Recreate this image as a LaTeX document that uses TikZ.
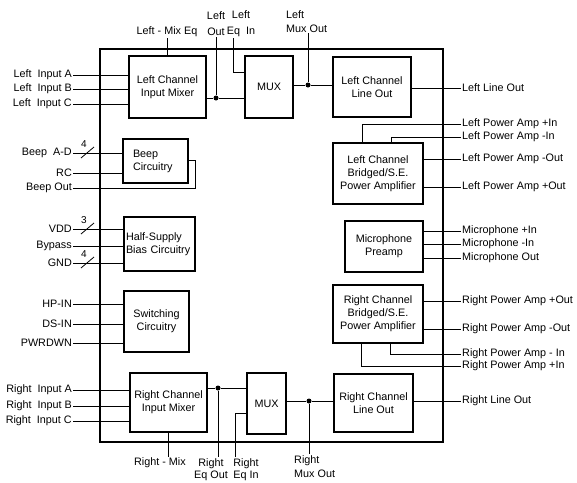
\documentclass[tikz,border=0pt]{standalone}
\usepackage{fontspec}
\setmainfont{Liberation Sans}
\begin{document}
\begin{tikzpicture}[x=1pt,y=-1pt,
  blk/.style={draw,line width=1.7pt,inner sep=1pt,align=center,font=\fontsize{10.8}{13}\selectfont},
  wire/.style={line width=0.8pt},
  lbl/.style={inner sep=1pt,font=\fontsize{10.8}{13}\selectfont},
  num/.style={inner sep=0pt,font=\fontsize{10}{10}\selectfont},
  dot/.style={circle,fill,inner sep=0pt,minimum size=5pt}]
\useasboundingbox (0,0) rectangle (577,482);
% outer frame
\draw[line width=2.6pt] (100,49) rectangle (443,442);
% blocks
\node[blk,minimum width=77,minimum height=62] (lmix) at (167.5,87) {Left Channel\\Input Mixer};
\node[blk,minimum width=48,minimum height=62] (lmux) at (269,87) {MUX};
\node[blk,minimum width=78,minimum height=60] (llo) at (372,87) {Left Channel\\Line Out};
\node[blk,minimum width=65,minimum height=44,align=left,text width=45] (beep) at (155.5,161) {Beep\\Circuitry};
\node[blk,minimum width=90,minimum height=61] (lpa) at (378,173.5) {Left Channel\\Bridged/S.E.\\Power Amplifier};
\node[blk,minimum width=71,minimum height=54,align=left,text width=67] (half) at (159.5,244) {Half-Supply\\Bias Circuitry};
\node[blk,minimum width=78,minimum height=51] (mic) at (384,246.5) {Microphone\\Preamp};
\node[blk,minimum width=65,minimum height=61] (sw) at (156.5,321.5) {Switching\\Circuitry};
\node[blk,minimum width=90,minimum height=58] (rpa) at (378,314) {Right Channel\\Bridged/S.E.\\Power Amplifier};
\node[blk,minimum width=77,minimum height=59] (rmix) at (168.5,402.5) {Right Channel\\Input Mixer};
\node[blk,minimum width=39,minimum height=61] (rmux) at (266.5,403.5) {MUX};
\node[blk,minimum width=79,minimum height=58] (rlo) at (373.5,403) {Right Channel\\Line Out};
% ---------- left side labels ----------
\node[lbl,anchor=east] (lia) at (73,75) {Left\ \ Input A};
\node[lbl,anchor=east] (lib) at (73,89) {Left\ \ Input B};
\node[lbl,anchor=east] (lic) at (73,104) {Left\ \ Input C};
\foreach \n in {lia,lib,lic} \draw[wire] (\n.east) -- (\n.east -| lmix.west);
\node[lbl,anchor=east] (bad) at (73,153) {Beep\ \ A-D};
\node[lbl,anchor=east] (rc) at (73,173) {RC};
\node[lbl,anchor=east] (bout) at (73,188) {Beep Out};
\draw[wire] (bad.east) -- (bad.east -| beep.west);
\draw[wire] (rc.east) -- (rc.east -| beep.west);
\coordinate (bc1) at (195,188);
\coordinate (bc2) at (195,160);
\draw[wire] (bout.east) -- (bc1) -- (bc2) -- (bc2 -| beep.east);
\node[lbl,anchor=east] (vdd) at (73,229) {VDD};
\node[lbl,anchor=east] (byp) at (73,246) {Bypass};
\node[lbl,anchor=east] (gnd) at (73,263) {GND};
\foreach \n in {vdd,byp,gnd} \draw[wire] (\n.east) -- (\n.east -| half.west);
\node[lbl,anchor=east] (hpin) at (73,304) {HP-IN};
\node[lbl,anchor=east] (dsin) at (73,324) {DS-IN};
\node[lbl,anchor=east] (pwr) at (73,343) {PWRDWN};
\foreach \n in {hpin,dsin,pwr} \draw[wire] (\n.east) -- (\n.east -| sw.west);
\node[lbl,anchor=east] (ria) at (73,390) {Right\ \ Input A};
\node[lbl,anchor=east] (rib) at (73,406) {Right\ \ Input B};
\node[lbl,anchor=east] (ric) at (73,421) {Right\ \ Input C};
\foreach \n in {ria,rib,ric} \draw[wire] (\n.east) -- (\n.east -| rmix.west);
% bus slashes
\foreach \y/\k in {153/4,229/3,263/4} {
  \draw[wire] (81,\y+5) -- (94,\y-6);
  \node[num] at (84,\y-8.5) {\k};
}
% ---------- top labels ----------
\node[lbl] (lmeq) at (167,32) {Left - Mix Eq};
\draw[wire] (lmeq.south -| lmix.north) -- (lmix.north);
\node[lbl,align=center,font=\fontsize{10.8}{16}\selectfont] (lout) at (216,24) {Left\\Out};
\node[lbl,align=center,font=\fontsize{10.8}{16}\selectfont] (leqin) at (241,24) {Left\\Eq\ \ In};
\node[lbl,align=left,anchor=north west,font=\fontsize{10.8}{14}\selectfont] (lmo) at (285,9) {Left\\Mux Out};
\node[dot] (ld1) at (216,98) {};
\draw[wire] (lout.south) -- (ld1);
\draw[wire] (ld1 -| lmix.east) -- (ld1) -- (ld1 -| lmux.west);
\coordinate (le1) at (233,72);
\draw[wire] (leqin.south -| le1) -- (le1) -- (le1 -| lmux.west);
\node[dot] (ld2) at (308,85) {};
\draw[wire] (ld2 |- lmo.south) -- (ld2);
\draw[wire] (ld2 -| lmux.east) -- (ld2) -- (ld2 -| llo.west);
% ---------- right side labels ----------
\node[lbl,anchor=west] (llout) at (461,88) {Left Line Out};
\draw[wire] (llout.west -| llo.east) -- (llout.west);
\node[lbl,anchor=west] (lpip) at (461,124) {Left Power Amp +In};
\node[lbl,anchor=west] (lpim) at (461,137) {Left Power Amp -In};
\node[lbl,anchor=west] (lpom) at (461,159) {Left Power Amp -Out};
\node[lbl,anchor=west] (lpop) at (461,187) {Left Power Amp +Out};
\coordinate (lc1) at (362,124);
\coordinate (lc2) at (391,137);
\draw[wire] (lpip.west) -- (lc1) -- (lc1 |- lpa.north);
\draw[wire] (lpim.west) -- (lc2) -- (lc2 |- lpa.north);
\draw[wire] (lpom.west -| lpa.east) -- (lpom.west);
\draw[wire] (lpop.west -| lpa.east) -- (lpop.west);
\node[lbl,anchor=west] (mip) at (461,231) {Microphone +In};
\node[lbl,anchor=west] (mim) at (461,244) {Microphone -In};
\node[lbl,anchor=west] (mo) at (461,258) {Microphone Out};
\foreach \n in {mip,mim,mo} \draw[wire] (\n.west -| mic.east) -- (\n.west);
\node[lbl,anchor=west] (rpop) at (461,301) {Right Power Amp +Out};
\node[lbl,anchor=west] (rpom) at (461,329) {Right Power Amp -Out};
\node[lbl,anchor=west] (rpim) at (461,354) {Right Power Amp - In};
\node[lbl,anchor=west] (rpip) at (461,366) {Right Power Amp +In};
\draw[wire] (rpop.west -| rpa.east) -- (rpop.west);
\draw[wire] (rpom.west -| rpa.east) -- (rpom.west);
\coordinate (rc1) at (390,354);
\coordinate (rc2) at (361,366);
\draw[wire] (rc1 |- rpa.south) -- (rc1) -- (rpim.west);
\draw[wire] (rc2 |- rpa.south) -- (rc2) -- (rpip.west);
\node[lbl,anchor=west] (rlout) at (461,401) {Right Line Out};
\draw[wire] (rlout.west -| rlo.east) -- (rlout.west);
% ---------- bottom ----------
\node[lbl] (rmx) at (160,463) {Right - Mix};
\draw[wire] (rmix.south -| 168,0) -- (168,0 |- rmx.north);
\node[lbl,align=center,font=\fontsize{10.8}{12.5}\selectfont,anchor=north] (reqo) at (211,457) {Right\\Eq Out};
\node[lbl,align=center,font=\fontsize{10.8}{12.5}\selectfont,anchor=north] (reqi) at (246,457) {Right\\Eq In};
\node[lbl,align=left,font=\fontsize{10.8}{14}\selectfont,anchor=north west] (rmo) at (293,454) {Right\\Mux Out};
\node[dot] (rd1) at (218,388) {};
\draw[wire] (rd1 -| rmix.east) -- (rd1) -- (rd1 -| rmux.west);
\draw[wire] (rd1) -- (rd1 |- reqo.north);
\coordinate (re1) at (235,413);
\draw[wire] (re1 -| rmux.west) -- (re1) -- (re1 |- reqi.north);
\node[dot] (rd2) at (309,401) {};
\draw[wire] (rd2 -| rmux.east) -- (rd2) -- (rd2 -| rlo.west);
\draw[wire] (rd2) -- (rd2 |- rmo.north);
\end{tikzpicture}
\end{document}
